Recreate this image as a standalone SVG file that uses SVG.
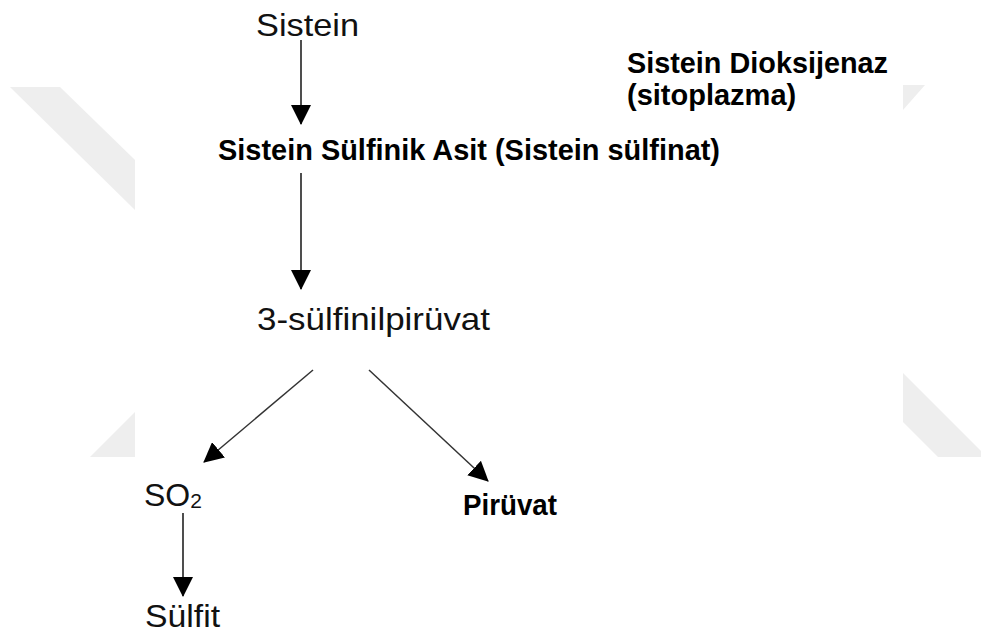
<svg xmlns="http://www.w3.org/2000/svg" width="981" height="635" viewBox="0 0 981 635">
  <defs>
    <style>
      .reg { font-family: "Liberation Sans", Arial, sans-serif; font-size: 32px; fill: #111; }
      .bold { font-family: "Liberation Sans", Arial, sans-serif; font-size: 29px; font-weight: bold; fill: #000; }
      .line { stroke: #222; stroke-width: 1.6; fill: none; }
      .diag { stroke: #333; stroke-width: 1.5; fill: none; }
      .wm { fill: #eeeeee; }
    </style>
    <marker id="arrow" viewBox="0 0 20 20" refX="19" refY="10" markerWidth="20" markerHeight="20" markerUnits="userSpaceOnUse" orient="auto">
      <path d="M0,0 L20,10 L0,20 z" fill="#000"/>
    </marker>
  </defs>
  <rect width="981" height="635" fill="#ffffff"/>
  <g id="watermark">
    <polygon class="wm" points="10,87 60,87 135,160 135,210"/>
    <polygon class="wm" points="90,457 135,457 135,412"/>
    <polygon class="wm" points="903,85 925,85 903,110"/>
    <polygon class="wm" points="903,373 981,451 981,457 938,457 903,422"/>
  </g>
  <g id="connectors">
    <line class="line" x1="301" y1="40" x2="301" y2="124" marker-end="url(#arrow)"/>
    <line class="line" x1="301" y1="173" x2="301" y2="289" marker-end="url(#arrow)"/>
    <line class="diag" x1="313" y1="370" x2="204" y2="462" marker-end="url(#arrow)"/>
    <line class="diag" x1="369" y1="370" x2="488" y2="481" marker-end="url(#arrow)"/>
    <line class="line" x1="183" y1="513" x2="183" y2="596" marker-end="url(#arrow)"/>
  </g>
  <g id="sistein">
    <text class="reg" x="256" y="36" textLength="103" lengthAdjust="spacingAndGlyphs">Sistein</text>
  </g>
  <g id="enzyme">
    <text class="bold" x="627" y="73" textLength="261" lengthAdjust="spacingAndGlyphs">Sistein Dioksijenaz</text>
    <text class="bold" x="627" y="105">(sitoplazma)</text>
  </g>
  <g id="sulfinik">
    <text class="bold" x="218" y="160" textLength="502" lengthAdjust="spacingAndGlyphs">Sistein Sülfinik Asit (Sistein sülfinat)</text>
  </g>
  <g id="sulfinilpiruvat">
    <text class="reg" x="257" y="330" textLength="233" lengthAdjust="spacingAndGlyphs">3-sülfinilpirüvat</text>
  </g>
  <g id="so2">
    <text class="reg" x="144" y="506">SO<tspan font-size="21" dy="2">2</tspan></text>
  </g>
  <g id="piruvat">
    <text class="bold" x="463" y="515" textLength="94" lengthAdjust="spacingAndGlyphs">Pirüvat</text>
  </g>
  <g id="sulfit">
    <text class="reg" x="145" y="627" textLength="75" lengthAdjust="spacingAndGlyphs">Sülfit</text>
  </g>
</svg>
